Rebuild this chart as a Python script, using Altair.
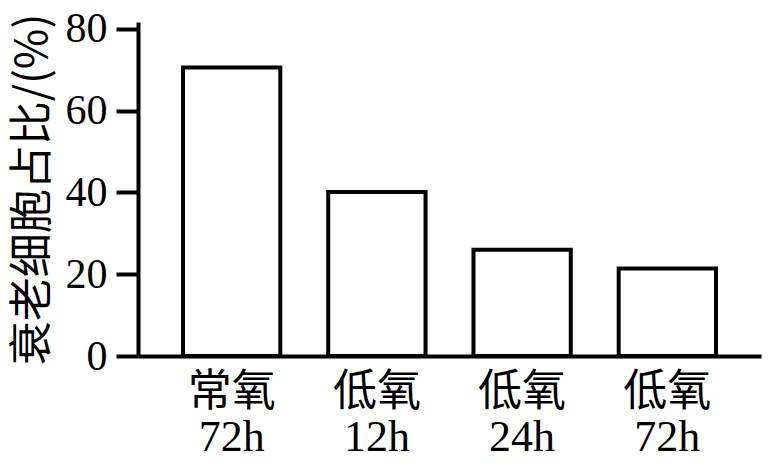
import altair as alt
import pandas as pd

categories = ["常氧\n72h", "低氧\n12h", "低氧\n24h", "低氧\n72h"]
values = [70.6, 40.1, 26.0, 21.4]
y_ticks = [0, 20, 40, 60, 80]

df = pd.DataFrame({"group": categories, "pct": values})

FONT = "Liberation Serif, Noto Sans CJK SC"

chart = alt.Chart(df).mark_bar(
    fill="white", stroke="black", strokeWidth=4
).encode(
    x=alt.X(
        "group:N",
        sort=None,
        title=None,
        scale=alt.Scale(paddingInner=0.33, paddingOuter=0.31),
        axis=alt.Axis(
            labelAngle=0,
            ticks=False,
            domainWidth=4,
            domainColor="black",
            labelExpr="split(datum.label, '\\n')",
            labelFont=FONT,
            labelFontSize=44,
            labelLineHeight=45,
            labelColor="black",
            labelPadding=14,
            labelBaseline="top",
        ),
    ),
    y=alt.Y(
        "pct:Q",
        title="衰老细胞占比/(%)",
        scale=alt.Scale(domain=[0, 81.7], nice=False),
        axis=alt.Axis(
            values=y_ticks,
            grid=False,
            domainWidth=4,
            domainColor="black",
            tickWidth=4,
            tickSize=22,
            tickColor="black",
            labelFont="Liberation Serif",
            labelFontSize=42,
            labelColor="black",
            labelPadding=9,
            titleFont="Noto Sans CJK SC",
            titleFontSize=44,
            titleFontWeight="normal",
            titleColor="black",
            titlePadding=10,
        ),
    ),
).properties(
    width=623,
    height=334,
    autosize=alt.AutoSizeParams(type="none"),
    padding={"left": 130, "top": 14, "right": 8, "bottom": 107},
).configure_view(stroke=None)

chart.save("out.html", embed_options={"renderer": "svg", "actions": False})
